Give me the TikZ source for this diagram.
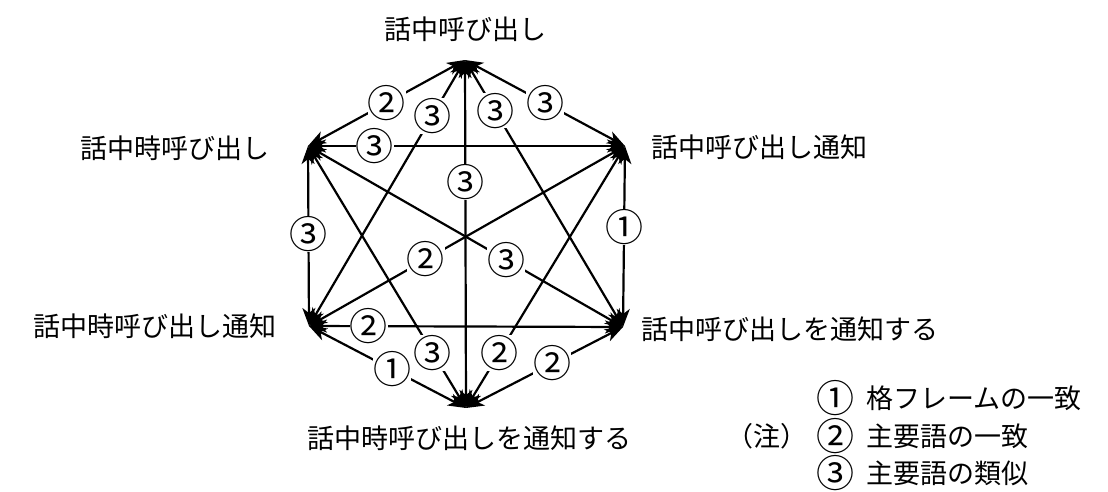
\documentclass[tikz,border=0pt]{standalone}
\usepackage{fontspec}
\setmainfont{Noto Sans CJK JP}
\usetikzlibrary{arrows.meta}

\tikzstyle{txt} = [font=\fontsize{27}{32}\selectfont, inner sep=0pt]
\tikzstyle{num} = [font=\fontsize{38}{40}\selectfont, fill=white, inner sep=0pt]
\tikzstyle{a1} = [line width=2.2pt, >={Stealth[length=18pt,width=13pt,inset=5pt]}, <->]
\newcommand{\cnum}[1]{\smash{\raisebox{-4pt}{\fontsize{38}{40}\selectfont #1}}}

\begin{document}
\begin{tikzpicture}[x=1pt, y=-1pt]
    \useasboundingbox (0,0) rectangle (1108,492);
    \coordinate (P1) at (465, 60);
    \coordinate (P2) at (308, 146);
    \coordinate (P3) at (625, 146);
    \coordinate (P4) at (309, 326);
    \coordinate (P5) at (623, 327);
    \coordinate (P6) at (466, 408);
    \node[txt] (L1) at (465, 29) {話中呼び出し};
    \node[txt, anchor=east] (L2) at (270, 148) {話中時呼び出し};
    \node[txt, anchor=west] (L3) at (651, 147) {話中呼び出し通知};
    \node[txt, anchor=east] (L4) at (277, 326) {話中時呼び出し通知};
    \node[txt, anchor=west] (L5) at (641, 329) {話中呼び出しを通知する};
    \node[txt] (L6) at (469, 438) {話中時呼び出しを通知する};
    \draw[a1] (P1) -- node[num, pos=0.5] (E1) {②} (P2);
    \draw[a1] (P1) -- node[num, pos=0.5] (E2) {③} (P3);
    \draw[a1] (P1) -- node[num, pos=0.21] (E3) {③} (P4);
    \draw[a1] (P1) -- node[num, pos=0.19] (E4) {③} (P5);
    \draw[a1] (P1) -- node[num, pos=0.35] (E5) {③} (P6);
    \draw[a1] (P2) -- node[num, pos=0.21] (E6) {③} (P3);
    \draw[a1] (P2) -- node[num, pos=0.49] (E7) {③} (P4);
    \draw[a1] (P2) -- node[num, pos=0.63] (E8) {③} (P5);
    \draw[a1] (P2) -- node[num, pos=0.79] (E9) {③} (P6);
    \draw[a1] (P3) -- node[num, pos=0.63] (E10) {②} (P4);
    \draw[a1] (P3) -- node[num, pos=0.45] (E11) {①} (P5);
    \draw[a1] (P3) -- node[num, pos=0.79] (E12) {②} (P6);
    \draw[a1] (P4) -- node[num, pos=0.19] (E13) {②} (P5);
    \draw[a1] (P4) -- node[num, pos=0.53] (E14) {①} (P6);
    \draw[a1] (P5) -- node[num, pos=0.45] (E15) {②} (P6);
    % legend
    \node[txt, anchor=west] (K1) at (816, 398) {\cnum{①}\hspace{0.45em}格フレームの一致};
    \node[txt, anchor=east] (K0) at (808, 436) {（注）};
    \node[txt, anchor=west] (K2) at (816, 436) {\cnum{②}\hspace{0.45em}主要語の一致};
    \node[txt, anchor=west] (K3) at (816, 473) {\cnum{③}\hspace{0.45em}主要語の類似};
\end{tikzpicture}
\end{document}
